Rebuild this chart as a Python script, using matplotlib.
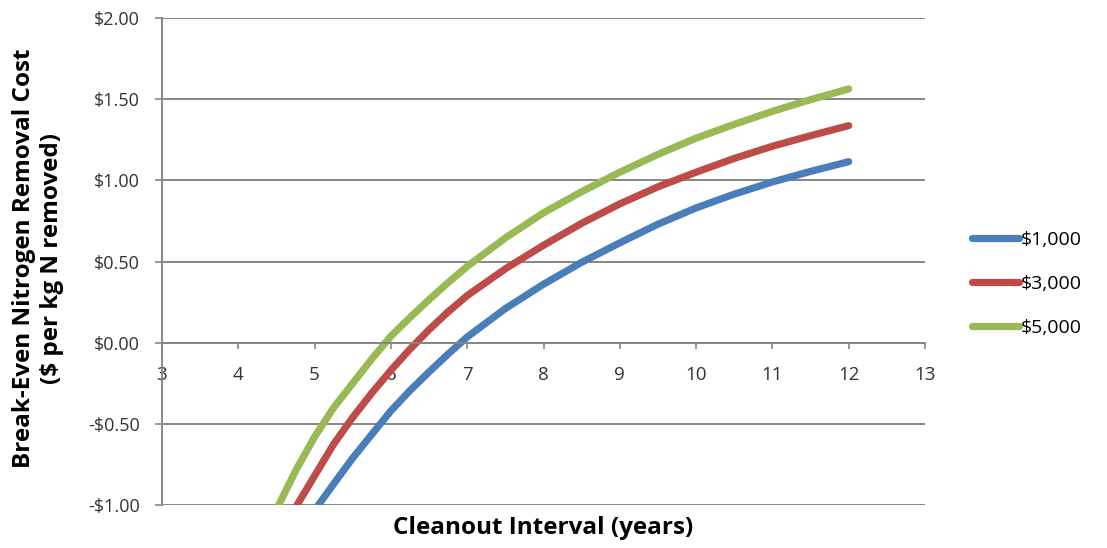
import matplotlib.pyplot as plt
from matplotlib.ticker import FuncFormatter

plt.rcParams['font.family'] = ['Open Sans', 'DejaVu Sans']

# values
x_1000 = [5.05, 5.25, 5.5, 5.75, 6.0, 6.25, 6.5, 6.75, 7.0, 7.5, 8.0, 8.5, 9.0, 9.5, 10.0, 10.5, 11.0, 11.5, 12.0]
y_1000 = [-1.00, -0.87, -0.71, -0.565, -0.42, -0.295, -0.18, -0.07, 0.035, 0.21, 0.36, 0.495, 0.615, 0.73,
          0.83, 0.915, 0.99, 1.055, 1.115]

x_3000 = [4.77, 5.0, 5.25, 5.5, 5.75, 6.0, 6.25, 6.5, 6.75, 7.0, 7.5, 8.0, 8.5, 9.0, 9.5, 10.0, 10.5, 11.0, 11.5, 12.0]
y_3000 = [-1.00, -0.82, -0.625, -0.46, -0.31, -0.17, -0.04, 0.08, 0.19, 0.29, 0.455, 0.60, 0.735, 0.855, 0.96,
          1.05, 1.135, 1.21, 1.275, 1.337]

x_5000 = [4.53, 4.75, 5.0, 5.25, 5.5, 5.75, 6.0, 6.25, 6.5, 6.75, 7.0, 7.5, 8.0, 8.5, 9.0, 9.5, 10.0, 10.5, 11.0,
          11.5, 12.0]
y_5000 = [-1.00, -0.79, -0.58, -0.40, -0.25, -0.10, 0.04, 0.155, 0.265, 0.37, 0.47, 0.645, 0.80, 0.93, 1.05,
          1.16, 1.26, 1.345, 1.425, 1.497, 1.563]

series_labels = ['$1,000', '$3,000', '$5,000']
colors = ['#4A7EBB', '#BE4B48', '#98B954']

x_ticks = list(range(3, 14))
y_ticks = [-1.0, -0.5, 0.0, 0.5, 1.0, 1.5, 2.0]

fig = plt.figure(figsize=(11.07, 5.48), dpi=100)
ax = fig.add_axes([162 / 1107, 1 - 505 / 548, (925 - 162) / 1107, (505 - 18) / 548])

for xs, ys, lab, c in zip([x_1000, x_3000, x_5000], [y_1000, y_3000, y_5000], series_labels, colors):
    ax.plot(xs, ys, color=c, lw=5.2, solid_capstyle='round', solid_joinstyle='round', label=lab)

ax.set_xlim(3, 13)
ax.set_ylim(-1, 2)
ax.set_xticks(x_ticks)
ax.set_yticks(y_ticks)


def money(v, pos):
    if v < 0:
        return '-$%.2f' % abs(v)
    return '$%.2f' % v


ax.yaxis.set_major_formatter(FuncFormatter(money))

grid_c = '#868686'
ax.grid(axis='y', color=grid_c, lw=1.4)
ax.set_axisbelow(True)
for s in ['top', 'right']:
    ax.spines[s].set_visible(False)
ax.spines['left'].set_color(grid_c)
ax.spines['left'].set_linewidth(1.4)
ax.spines['bottom'].set_position(('data', 0))
ax.spines['bottom'].set_color(grid_c)
ax.spines['bottom'].set_linewidth(1.4)

ax.tick_params(axis='y', length=5, width=1.2, color=grid_c, pad=11, labelsize=13, labelcolor='#333333')
ax.tick_params(axis='x', direction='out', length=4.5, width=1.2, color=grid_c, pad=12, labelsize=13.5,
               labelcolor='#333333')

fig.text(38 / 1107, 1 - 258 / 548, 'Break-Even Nitrogen Removal Cost\n($ per kg N removed)',
         rotation=90, ha='center', va='center', multialignment='center',
         fontsize=17.5, fontweight='bold', linespacing=1.2)
fig.text(543 / 1107, 1 - 528 / 548, 'Cleanout Interval (years)',
         ha='center', va='center', fontsize=17.5, fontweight='bold')

fig.legend(loc='center left', bbox_to_anchor=(972 / 1107, 1 - 284 / 548), frameon=False,
           fontsize=14, handlelength=2.4, handletextpad=0.1, labelspacing=1.35, borderpad=0,
           borderaxespad=0)

fig.savefig('out.png', dpi=100)
